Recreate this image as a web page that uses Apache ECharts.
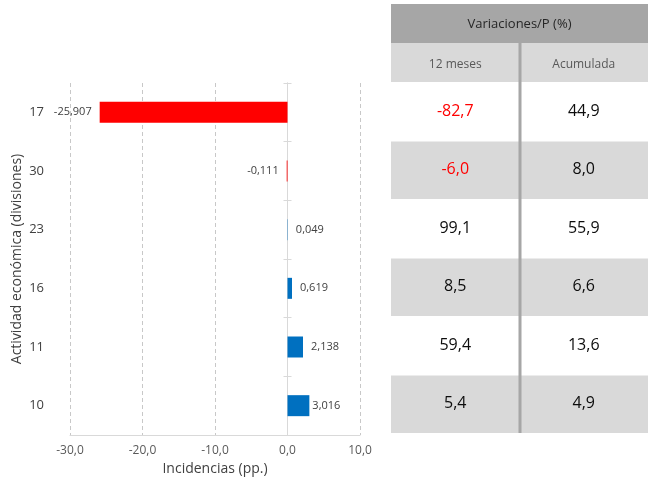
<!DOCTYPE html>
<html><head><meta charset="utf-8">
<script src="https://cdn.jsdelivr.net/npm/echarts@6/dist/echarts.min.js"></script>
<style>html,body{margin:0;padding:0;background:#fff}#c{width:654px;height:485px}</style>
</head><body><div id="c"></div>
<script>
var categories = ['17','30','23','16','11','10'];
var incidencias = [-25.907, -0.111, 0.049, 0.619, 2.138, 3.016];
var columns = ['12 meses','Acumulada'];
var var12 = [-82.7, -6.0, 99.1, 8.5, 59.4, 5.4];
var acum = [44.9, 8.0, 55.9, 6.6, 13.6, 4.9];
var xTicks = {min: -30, max: 10, interval: 10};

function fmt(v, d){ return v.toFixed(d).replace('.', ','); }
var FONT = '"Open Sans", "Noto Sans", sans-serif';

var barData = incidencias.map(function(v, i){
  var item = {value: v, itemStyle: {color: v < 0 ? '#ff0000' : '#0070c0'},
    label: {position: v < 0 ? 'left' : 'right'}};
  if (i === 5) item.label.distance = 3;
  return item;
});
var tableData = [];
categories.forEach(function(c, r){
  tableData.push([0, r, var12[r]]);
  tableData.push([1, r, acum[r]]);
});

function zeroAxis(inside){
  return {gridIndex: 0, type: 'category', data: categories, inverse: true, position: 'left', z: 1,
     axisLine: {show: true, onZero: true, onZeroAxisIndex: 0, lineStyle: {color: '#d9d9d9', width: 1}},
     axisTick: {show: true, inside: inside, length: 4, lineStyle: {color: '#d9d9d9'}},
     axisLabel: {show: false}, splitLine: {show: false}};
}

var chart = echarts.init(document.getElementById('c'), null, {renderer: 'canvas'});
chart.setOption({
  animation: false,
  textStyle: {fontFamily: FONT},
  grid: [
    {left: 70, right: 294, top: 83, bottom: 50},
    {left: 391, right: 6, top: 82, bottom: 52}
  ],
  xAxis: [
    {gridIndex: 0, type: 'value', min: xTicks.min, max: xTicks.max, interval: xTicks.interval,
     name: 'Incidencias (pp.)', nameLocation: 'middle', nameGap: 24,
     nameTextStyle: {color: '#404040', fontSize: 14, fontFamily: FONT},
     axisLine: {show: true, onZero: false, lineStyle: {color: '#d9d9d9', width: 1}},
     axisTick: {show: false},
     axisLabel: {color: '#595959', fontSize: 12, margin: 10, formatter: function(v){ return fmt(v,1); }},
     splitLine: {show: true, lineStyle: {color: '#c8c8c8', type: [4,3], width: 1}}},
    {gridIndex: 1, type: 'category', data: columns, position: 'top',
     axisLine: {show: false}, axisTick: {show: false}, splitLine: {show: false},
     axisLabel: {color: '#595959', fontSize: 12, margin: 11}, z: 5}
  ],
  yAxis: [
    {gridIndex: 0, type: 'category', data: categories, inverse: true, position: 'left',
     name: 'Actividad económica (divisiones)', nameLocation: 'middle', nameGap: 46,
     nameTextStyle: {color: '#404040', fontSize: 14, fontFamily: FONT},
     axisLine: {show: false, onZero: false}, axisTick: {show: false},
     axisLabel: {color: '#404040', fontSize: 13, margin: 26}},
    zeroAxis(false),
    {gridIndex: 1, type: 'category', data: categories, inverse: true, show: false},
    zeroAxis(true)
  ],
  graphic: [
    {type: 'rect', z: -10, shape: {x: 391, y: 4, width: 257, height: 39}, style: {fill: '#a6a6a6'}},
    {type: 'rect', z: -10, shape: {x: 391, y: 43, width: 257, height: 39}, style: {fill: '#d9d9d9'}},
    {type: 'text', z: 10, x: 519.5, y: 24, style: {text: 'Variaciones/P (%)', fill: '#262626', fontSize: 13, fontFamily: FONT, align: 'center', verticalAlign: 'middle'}},
    {type: 'line', z: 100, shape: {x1: 520, y1: 43, x2: 520, y2: 433}, style: {stroke: '#a6a6a6', lineWidth: 3}}
  ],
  series: [
    {type: 'bar', xAxisIndex: 0, yAxisIndex: 0, data: barData, barWidth: 21, z: 3,
     label: {show: true, color: '#404040', fontSize: 11, distance: 8,
       formatter: function(p){ return fmt(p.value, 3); }}},
    {type: 'custom', xAxisIndex: 1, yAxisIndex: 2, data: tableData,
     renderItem: function(params, api){
       var col = api.value(0), row = api.value(1), v = api.value(2);
       var c = api.coord([col, row]);
       var s = api.size([1, 1]);
       return {type: 'group', children: [
         {type: 'rect', shape: {x: c[0]-s[0]/2, y: c[1]-s[1]/2 + 1, width: s[0], height: s[1]-1},
          style: {fill: row % 2 === 1 ? '#d9d9d9' : '#ffffff'}},
         {type: 'text', x: c[0], y: c[1],
          style: {text: fmt(v, 1), fill: v < 0 ? '#ff0000' : '#0d0d0d', fontSize: 16, fontFamily: FONT,
                  align: 'center', verticalAlign: 'middle'}}
       ]};
     }}
  ]
});
</script></body></html>
